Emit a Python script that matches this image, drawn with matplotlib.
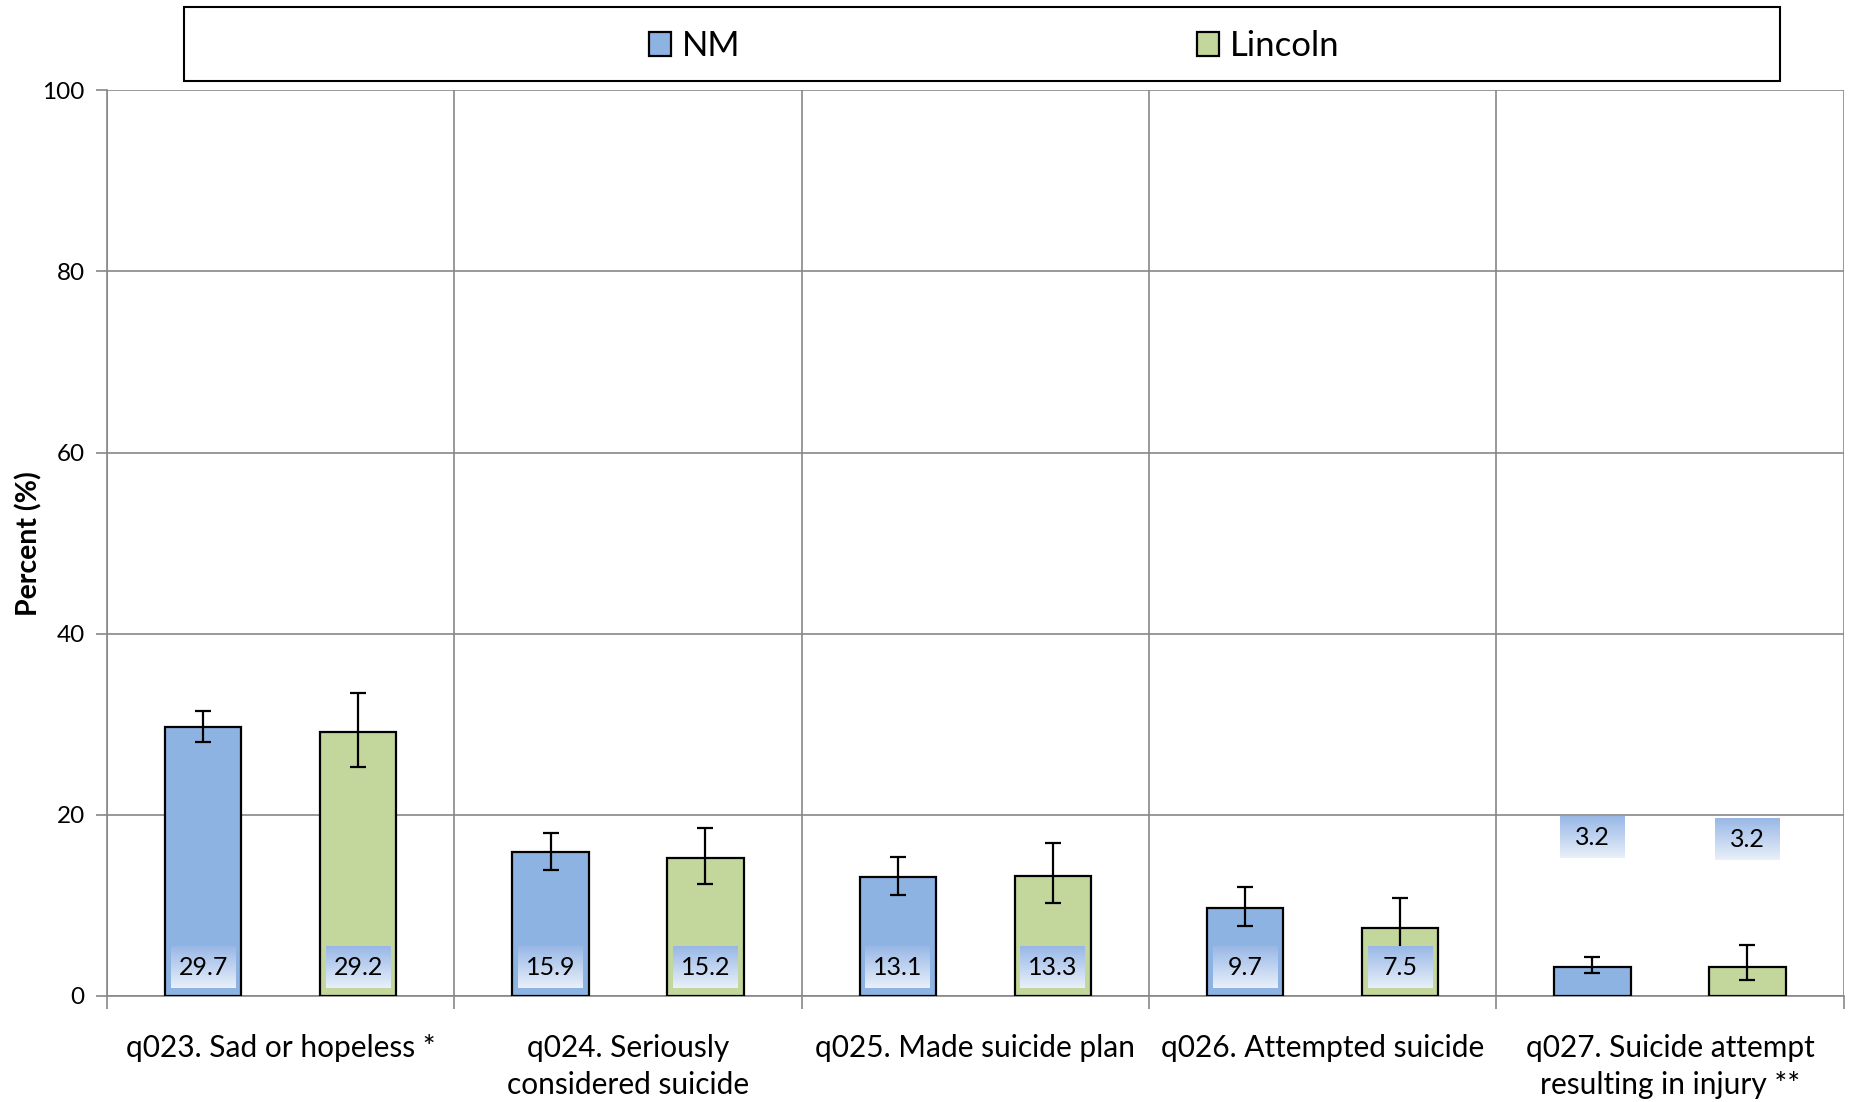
import numpy as np
import matplotlib.pyplot as plt
from matplotlib.patches import Rectangle

plt.rcParams['font.family'] = ['Lato', 'DejaVu Sans']

# data
categories = ["q023. Sad or hopeless *", "q024. Seriously\nconsidered suicide",
              "q025. Made suicide plan", "q026. Attempted suicide",
              "q027. Suicide attempt\nresulting in injury **"]
nm_vals = [29.7, 15.9, 13.1, 9.7, 3.2]
nm_lo = [28.0, 13.9, 11.2, 7.7, 2.5]
nm_hi = [31.5, 18.0, 15.4, 12.0, 4.3]
lin_vals = [29.2, 15.2, 13.3, 7.5, 3.2]
lin_lo = [25.3, 12.4, 10.3, 3.8, 1.8]
lin_hi = [33.5, 18.6, 16.9, 10.8, 5.6]
# label y-position (value labels sit at bar base, except last group)
nm_label_y = [3.15, 3.15, 3.15, 3.15, 17.5]
lin_label_y = [3.15, 3.15, 3.15, 3.15, 17.3]

NM_COLOR = "#8DB3E2"
LIN_COLOR = "#C3D69B"
GRID = "#878787"

fig = plt.figure(figsize=(18.51, 11.02), dpi=100)
ax = fig.add_axes([0.0578, 0.0962, 0.9382, 0.8218])

x = np.arange(len(categories))
off = 0.223
w = 0.22

nm_err = [np.array(nm_vals) - np.array(nm_lo), np.array(nm_hi) - np.array(nm_vals)]
lin_err = [np.array(lin_vals) - np.array(lin_lo), np.array(lin_hi) - np.array(lin_vals)]

ax.bar(x - off, nm_vals, w, color=NM_COLOR, edgecolor="black", linewidth=1.6,
       yerr=nm_err, capsize=6, error_kw=dict(elinewidth=1.6, capthick=1.6), zorder=3,
       label="NM")
ax.bar(x + off, lin_vals, w, color=LIN_COLOR, edgecolor="black", linewidth=1.6,
       yerr=lin_err, capsize=6, error_kw=dict(elinewidth=1.6, capthick=1.6), zorder=3,
       label="Lincoln")

# gradient boxes for value labels
grad = np.linspace(0, 1, 64).reshape(-1, 1)
top_c = np.array([0.60, 0.72, 0.90])
bot_c = np.array([0.91, 0.94, 0.98])
img = (bot_c[None, None, :] * (1 - grad[:, :, None]) + top_c[None, None, :] * grad[:, :, None])
bw, bh = 0.187, 4.6
for xs, vals, ys in [(x - off, nm_vals, nm_label_y), (x + off, lin_vals, lin_label_y)]:
    for xi, v, yi in zip(xs, vals, ys):
        ax.imshow(img, extent=[xi - bw / 2, xi + bw / 2, yi - bh / 2, yi + bh / 2],
                  origin="lower", aspect="auto", zorder=4)
        ax.text(xi, yi, f"{v:.1f}", ha="center", va="center", fontsize=18, zorder=5)

ax.set_xlim(-0.5, len(categories) - 0.5)
ax.set_ylim(0, 100)
ax.set_yticks(range(0, 101, 20))
ax.yaxis.grid(True, color=GRID, linewidth=1.2, zorder=0)
ax.set_xticks(np.arange(len(categories) + 1) - 0.5)
ax.set_xticklabels([])
ax.xaxis.grid(True, color=GRID, linewidth=1.2, zorder=0)
ax.tick_params(axis="x", length=9, color=GRID, width=1.2)
ax.tick_params(axis="y", length=8, color=GRID, width=1.2, labelsize=17.5, pad=8)
for i, c in enumerate(categories):
    ax.text(i, -4.25, c, ha="center", va="top", fontsize=21.5, linespacing=1.38)
for s in ["top", "right"]:
    ax.spines[s].set_visible(False)
for s in ["left", "bottom"]:
    ax.spines[s].set_color(GRID)
    ax.spines[s].set_linewidth(1.2)
ax.set_ylabel("Percent (%)", fontsize=20.5, fontweight="bold", labelpad=0)

# legend frame and entries
fig.patches.append(Rectangle((0.0994, 0.9265), 0.8622, 0.0671, transform=fig.transFigure,
                             facecolor="white", edgecolor="black", linewidth=1.5))
leg = fig.legend(loc="center", bbox_to_anchor=(0.537, 0.958), ncol=2, fontsize=25,
                 frameon=False, handlelength=0.65, handleheight=0.65,
                 handletextpad=0.3, columnspacing=13.15, borderaxespad=0)

fig.savefig("out.png", dpi=100)
